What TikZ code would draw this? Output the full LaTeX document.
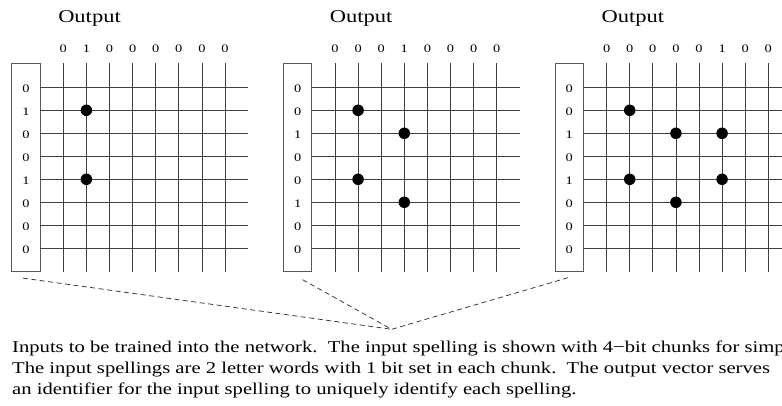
\documentclass[tikz,border=0pt]{standalone}
\usepackage{fontspec}
\setmainfont{Liberation Serif}[FakeStretch=1.25]
\newcommand\drawpanel[5]{%
  \begin{scope}[xshift=#2pt]
    \node[inbox] (box#1) at (25.9,167.35) {};
    \foreach \i in {0,...,7}
      \draw[gridline] (63.3+23.1*\i,63) -- (63.3+23.1*\i,271.7);
    \foreach \j in {0,...,7}
      \draw[gridline] (40,87.3+23*\j) -- (248.3,87.3+23*\j);
    \node[title] (out#1) at (89.5,22.7) {Output};
    \foreach \c [count=\i from 0] in {#3}
      \node[lbl, anchor=base] (c#1\i) at (63.3+23.1*\i,52.3) {\c};
    \foreach \r [count=\j from 0] in {#4}
      \node[lbl] (r#1\j) at (25.9,88.6+23*\j) {\r};
    \foreach \i/\j in {#5}
      \node[dotmark] (d#1\i\j) at (63.3+23.1*\i,87.3+23*\j) {};
  \end{scope}}
\begin{document}
\begin{tikzpicture}[x=1pt,y=-1pt,
  gridline/.style={draw=black!75, line width=0.75pt},
  inbox/.style={draw=black!65, line width=0.8pt, minimum width=28.3pt, minimum height=208.7pt, inner sep=0pt},
  lbl/.style={font=\fontsize{11.5}{13}\selectfont, inner sep=0pt},
  title/.style={font=\fontsize{18}{21}\selectfont, inner sep=0pt, anchor=base},
  dotmark/.style={circle, fill=black, minimum size=11.5pt, inner sep=0pt},
  dashconn/.style={dash pattern=on 5pt off 3.5pt, draw=black!80, line width=0.75pt},
  body/.style={font=\fontsize{16.5}{21}\selectfont, inner sep=0pt, anchor=base west}]
\useasboundingbox (0,0) rectangle (782,406);
\clip (0,0) rectangle (782,406);
\fill[white] (0,0) rectangle (782,406);
\drawpanel{1}{0}{0,1,0,0,0,0,0,0}{0,1,0,0,1,0,0,0}{1/1,1/4}
\drawpanel{2}{271.7}{0,0,0,1,0,0,0,0}{0,0,1,0,0,1,0,0}{1/1,3/2,1/4,3/5}
\drawpanel{3}{543.3}{0,0,0,0,0,1,0,0}{0,0,1,0,1,0,0,0}{1/1,3/2,5/2,1/4,5/4,3/5}
\coordinate (apex) at (391.7,329.3);
\draw[dashconn] ([xshift=-3pt,yshift=-6pt]box1.south) -- (apex);
\draw[dashconn] ([xshift=5pt,yshift=-7.6pt]box2.south) -- (apex);
\draw[dashconn] ([xshift=-1.2pt,yshift=-5.6pt]box3.south) -- (apex);
\node[body] (t1) at (12,352) {Inputs to be trained into the network.\ \ The input spelling is shown with 4−bit chunks for simp};
\node[body] (t2) at (12,373) {The input spellings are 2 letter words with 1 bit set in each chunk.\ \ The output vector serves};
\node[body] (t3) at (12,394) {an identifier for the input spelling to uniquely identify each spelling.};
\end{tikzpicture}
\end{document}
